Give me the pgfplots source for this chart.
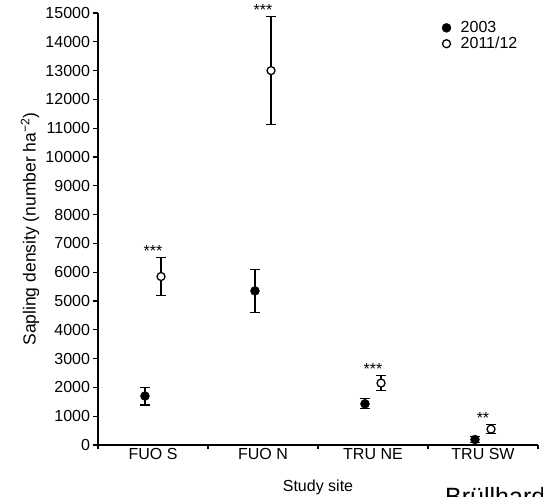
\documentclass[border=0pt]{standalone}
\usepackage{fontspec}
\setmainfont{Liberation Sans}
\usepackage{pgfplots}
\pgfplotsset{compat=1.18}
\usetikzlibrary{calc}

% sapling density per site, 2003 vs 2011/12 (mean, error)
\pgfplotstableread{
x      y      e
0.927  1700   310
1.927  5350   740
2.927  1430   170
3.927  190    90
}\early
\pgfplotstableread{
x      y      e
1.073  5850   650
2.073  13000  1870
3.073  2150   260
4.073  550    160
}\late

\begin{document}
\begin{tikzpicture}
\begin{axis}[
  name=ax,
  scale only axis,
  width=440pt, height=432pt,
  xmin=0.5, xmax=4.5,
  ymin=0, ymax=15000,
  clip=false,
  axis x line=bottom, axis y line=left,
  axis line style={-, line width=1.1pt},
  tick align=outside,
  major tick length=4.5pt,
  tick style={line width=1.1pt, black},
  xtick={0.5,1.5,2.5,3.5,4.5},
  xticklabels={},
  extra x ticks={1,2,3,4},
  extra x tick labels={FUO S, FUO N, TRU NE, TRU SW},
  extra x tick style={major tick length=0pt},
  ytick={0,1000,...,15000},
  scaled y ticks=false,
  yticklabel style={/pgf/number format/.cd, fixed, set thousands separator={}, assume math mode=true},
  tick label style={font=\fontsize{16}{18}\selectfont},
  xlabel={Study site},
  ylabel={Sapling density (number ha\textsuperscript{−2})},
  xlabel style={font=\fontsize{16}{18}\selectfont, at={(axis description cs:0.5,-0.108)}, anchor=base},
  ylabel style={font=\fontsize{17.5}{18}\selectfont, at={(axis description cs:-0.1545,0.5)}, anchor=center},
  legend style={at={(rel axis cs:0.773,0.99)}, anchor=north west, draw=none, fill=none,
    font=\fontsize{16}{15}\selectfont, row sep=-1pt},
  legend cell align=left,
  legend image code/.code={\path (0pt,0pt) (17pt,0pt);
    \draw[mark repeat=2,mark phase=2,#1] plot coordinates {(0pt,0pt)(5pt,0pt)(17pt,0pt)};},
]
\addplot[only marks, black, mark=*, mark size=4.5pt, mark options={fill=black},
  error bars/.cd, y dir=both, y explicit,
  error bar style={line width=1.1pt},
  error mark options={rotate=90, mark size=5pt, line width=1.1pt}]
  table[x=x, y=y, y error=e]{\early};
\addlegendentry{2003}
\addplot[only marks, black, mark=*, mark size=4pt, mark options={fill=white, line width=1.3pt},
  error bars/.cd, y dir=both, y explicit,
  error bar style={line width=1.1pt},
  error mark options={rotate=90, mark size=5pt, line width=1.1pt}]
  table[x=x, y=y, y error=e]{\late};
\addlegendentry{2011/12}

\node[anchor=base, font=\fontsize{16}{16}\selectfont, yshift=1pt] at (axis cs:1,6500) {***};
\node[anchor=base, font=\fontsize{16}{16}\selectfont, yshift=1pt] at (axis cs:2,14870) {***};
\node[anchor=base, font=\fontsize{16}{16}\selectfont, yshift=1pt] at (axis cs:3,2410) {***};
\node[anchor=base, font=\fontsize{16}{16}\selectfont, yshift=1pt] at (axis cs:4,710) {**};
\end{axis}
\node[anchor=north west, inner sep=0pt, font=\fontsize{25}{25}\selectfont] at ($(ax.south west)+(347pt,-42pt)$) {Brüllhardt};
\pgfresetboundingbox
\path[use as bounding box] ($(ax.south west)+(-98pt,-52pt)$) rectangle ($(ax.north east)+(5pt,13pt)$);
\end{tikzpicture}
\end{document}
